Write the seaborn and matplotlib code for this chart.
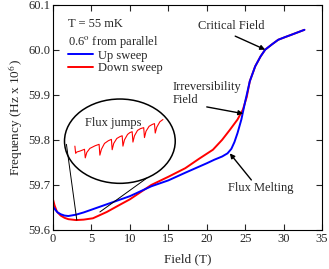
import numpy as np
import pandas as pd
import matplotlib
import matplotlib.pyplot as plt
import seaborn as sns
from matplotlib.patches import Ellipse

matplotlib.use('Agg')

# up sweep (blue)
up_field = [0.0, 0.3, 0.6, 1.0, 1.5, 2.0, 3.0, 4.0, 5.0, 6.5, 8.0, 10.0, 12.8, 15.0, 17.2, 20.0,
            21.0, 22.0, 22.7, 23.2, 23.6, 24.0, 24.5, 25.0, 25.6, 26.3, 27.0, 27.6, 28.5, 29.3,
            30.2, 31.0, 32.7]
up_freq = [59.652, 59.645, 59.639, 59.635, 59.632, 59.631, 59.634, 59.639, 59.645, 59.654, 59.663,
           59.675, 59.697, 59.710, 59.727, 59.748, 59.756, 59.763, 59.770, 59.780, 59.795, 59.815,
           59.845, 59.885, 59.930, 59.963, 59.985, 60.000, 60.012, 60.022, 60.028, 60.033, 60.044]

# down sweep (red)
down_field = [0.0, 0.2, 0.5, 1.0, 1.5, 2.0, 3.0, 4.0, 5.2, 7.0, 8.7, 10.0, 12.8, 15.0, 17.2, 19.0,
              20.8, 22.0, 23.0, 24.0, 24.7, 25.2, 25.6, 26.3, 27.0, 27.6, 28.5, 29.3, 31.0, 32.7]
down_freq = [59.668, 59.655, 59.641, 59.632, 59.627, 59.624, 59.622, 59.623, 59.626, 59.640, 59.656,
             59.668, 59.700, 59.718, 59.737, 59.758, 59.778, 59.800, 59.822, 59.845, 59.867, 59.895,
             59.930, 59.963, 59.985, 60.000, 60.012, 60.022, 60.033, 60.044]

# zoomed flux jumps drawn inside the ellipse
jump_field = [2.85, 2.95, 3.1, 3.5, 4.1, 4.2, 4.4, 4.8, 5.5, 6.0, 6.1, 6.3, 6.7, 7.2, 7.6, 7.7, 7.9,
              8.3, 8.7, 9.0, 9.1, 9.3, 9.7, 10.0, 10.3, 10.4, 10.6, 11.0, 11.4, 11.8, 11.9, 12.1,
              12.5, 12.9, 13.2, 13.3, 13.5, 13.9, 14.3]
jump_freq = [59.786, 59.770, 59.773, 59.775, 59.779, 59.760, 59.772, 59.781, 59.787, 59.790, 59.766,
             59.779, 59.792, 59.798, 59.801, 59.778, 59.792, 59.803, 59.807, 59.809, 59.786, 59.800,
             59.812, 59.816, 59.818, 59.795, 59.809, 59.821, 59.825, 59.827, 59.805, 59.819, 59.830,
             59.834, 59.836, 59.815, 59.828, 59.840, 59.845]

x_ticks = [0, 5, 10, 15, 20, 25, 30, 35]
y_ticks = [59.6, 59.7, 59.8, 59.9, 60.0, 60.1]

sns.set_style("ticks")
plt.rcParams['font.family'] = ['Liberation Serif', 'DejaVu Serif']
plt.rcParams['mathtext.fontset'] = 'stix'

fig, ax = plt.subplots(figsize=(3.29, 2.69), dpi=100)
fig.subplots_adjust(left=0.161, right=0.979, top=0.983, bottom=0.145)

up = pd.DataFrame({'field': up_field, 'freq': up_freq})
down = pd.DataFrame({'field': down_field, 'freq': down_freq})
sns.lineplot(data=down, x='field', y='freq', color='#ff0000', lw=1.4, sort=False, ax=ax, label='Down sweep')
sns.lineplot(data=up, x='field', y='freq', color='#0000ff', lw=1.4, sort=False, ax=ax, label='Up sweep')
ax.plot(jump_field, jump_freq, color='#ff0000', lw=0.8)

ax.add_patch(Ellipse((8.7, 59.797), 14.4, 0.187, fill=False, ec='black', lw=1.1))
ax.plot([1.75, 3.1], [59.79, 59.622], color='black', lw=0.7)
ax.plot([12.2, 6.1], [59.715, 59.640], color='black', lw=0.7)

ax.set_xlim(0, 35)
ax.set_ylim(59.6, 60.1)
ax.set_xticks(x_ticks)
ax.set_yticks(y_ticks)
ax.set_yticklabels([f'{v:.1f}' for v in y_ticks])
ax.tick_params(direction='in', top=True, right=True, length=4, width=0.8, labelsize=9, pad=2)
for s in ax.spines.values():
    s.set_linewidth(0.8)
    s.set_color('black')

ax.set_xlabel('Field (T)', fontsize=9.5, labelpad=6)
ax.set_ylabel(r'Frequency (Hz x 10$^6$)', fontsize=9.5, labelpad=2)

ax.text(2.0, 60.056, 'T = 55 mK', fontsize=9, va='center')
ax.text(2.0, 60.016, r'0.6$^{\rm o}$ from parallel', fontsize=9, va='center')

handles, labels = ax.get_legend_handles_labels()
ax.legend(handles[::-1], labels[::-1], loc='upper left', bbox_to_anchor=(0.056, 0.80),
          frameon=False, fontsize=9, handlelength=2.0, handletextpad=0.4,
          labelspacing=0.05, borderpad=0, borderaxespad=0)

arrow = dict(arrowstyle='-|>', color='black', lw=1.0, mutation_scale=7, shrinkA=0, shrinkB=0)
ax.text(18.8, 60.053, 'Critical Field', fontsize=9, va='center')
ax.annotate('', xy=(27.6, 60.0), xytext=(23.7, 60.030), arrowprops=arrow)
ax.text(15.6, 59.902, 'Irreversibility\nField', fontsize=9, va='center', linespacing=1.1)
ax.annotate('', xy=(24.75, 59.858), xytext=(20.0, 59.873), arrowprops=arrow)
ax.text(22.8, 59.693, 'Flux Melting', fontsize=9, va='center')
ax.annotate('', xy=(23.0, 59.770), xytext=(25.8, 59.711), arrowprops=arrow)
ax.text(7.87, 59.838, 'Flux jumps', fontsize=9, ha='center', va='center')

plt.savefig('out.png', dpi=100)
plt.close()
